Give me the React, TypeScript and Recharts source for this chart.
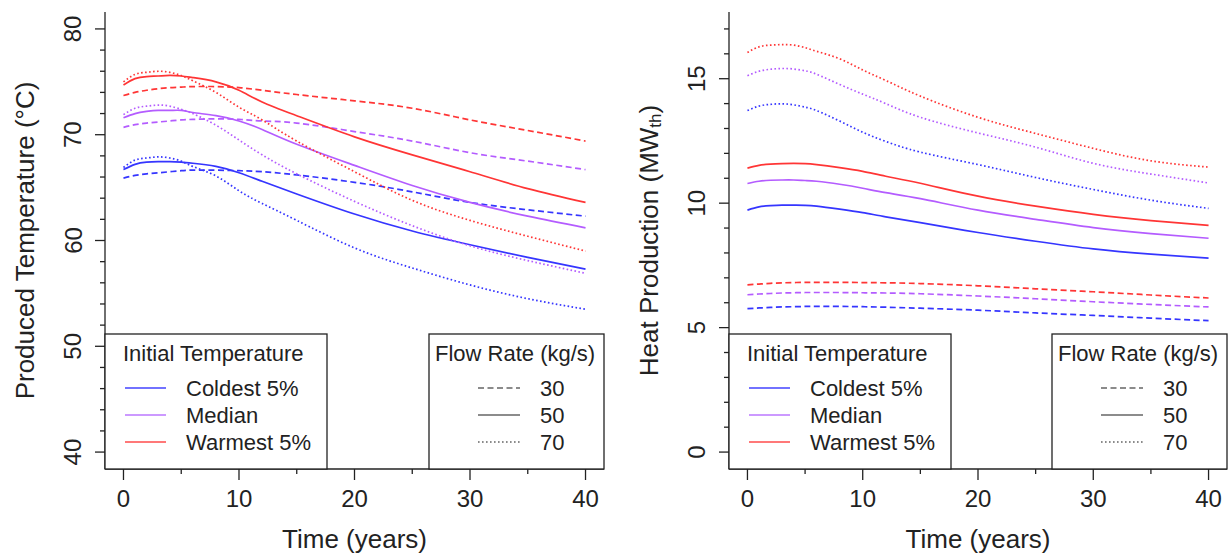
import React from 'react';
import { LineChart, Line, XAxis, YAxis } from 'recharts';

const YEARS = [0, 1, 2, 3, 4, 5, 6, 8, 10, 12, 15, 20, 25, 30, 35, 40];

// produced temperature (°C)
const tempColdest30 = [65.9, 66.15, 66.3, 66.4, 66.5, 66.6, 66.65, 66.65, 66.6, 66.5, 66.2, 65.5, 64.6, 63.6, 62.9, 62.3];
const tempColdest50 = [66.7, 67.2, 67.4, 67.45, 67.45, 67.4, 67.3, 67.0, 66.4, 65.6, 64.4, 62.5, 60.9, 59.6, 58.4, 57.3];
const tempColdest70 = [66.9, 67.6, 67.8, 67.9, 67.8, 67.5, 67.0, 66.1, 64.7, 63.5, 61.9, 59.3, 57.4, 55.8, 54.5, 53.5];
const tempMedian30 = [70.7, 70.95, 71.1, 71.2, 71.3, 71.4, 71.45, 71.5, 71.45, 71.3, 71.1, 70.3, 69.4, 68.3, 67.5, 66.7];
const tempMedian50 = [71.6, 72.0, 72.2, 72.3, 72.3, 72.3, 72.1, 71.8, 71.3, 70.5, 69.1, 67.1, 65.2, 63.6, 62.3, 61.2];
const tempMedian70 = [71.9, 72.5, 72.7, 72.8, 72.7, 72.4, 72.0, 70.9, 69.5, 68.1, 66.3, 63.7, 61.4, 59.5, 58.1, 56.9];
const tempWarmest30 = [73.7, 74.0, 74.2, 74.35, 74.45, 74.5, 74.55, 74.55, 74.45, 74.2, 73.8, 73.2, 72.5, 71.4, 70.4, 69.4];
const tempWarmest50 = [74.7, 75.3, 75.5, 75.55, 75.6, 75.55, 75.4, 75.0, 74.2, 73.1, 71.8, 69.8, 68.1, 66.5, 64.9, 63.6];
const tempWarmest70 = [75.0, 75.7, 75.9, 76.0, 75.9, 75.6, 75.1, 74.0, 72.6, 71.4, 69.4, 66.5, 63.8, 61.9, 60.4, 59.0];

// heat production (MWth)
const heatColdest30 = [5.76, 5.79, 5.81, 5.83, 5.84, 5.85, 5.85, 5.85, 5.84, 5.82, 5.78, 5.7, 5.59, 5.49, 5.38, 5.28];
const heatColdest50 = [9.72, 9.85, 9.9, 9.92, 9.92, 9.91, 9.88, 9.76, 9.62, 9.45, 9.22, 8.82, 8.47, 8.16, 7.95, 7.79];
const heatColdest70 = [13.72, 13.9, 13.97, 13.99, 13.95, 13.86, 13.72, 13.3, 12.85, 12.48, 12.05, 11.55, 11.03, 10.55, 10.12, 9.79];
const heatMedian30 = [6.32, 6.35, 6.37, 6.39, 6.4, 6.41, 6.41, 6.41, 6.4, 6.39, 6.36, 6.27, 6.16, 6.04, 5.93, 5.83];
const heatMedian50 = [10.79, 10.88, 10.92, 10.93, 10.93, 10.91, 10.88, 10.76, 10.6, 10.42, 10.18, 9.72, 9.35, 9.02, 8.78, 8.59];
const heatMedian70 = [15.12, 15.3, 15.38, 15.41, 15.39, 15.32, 15.18, 14.77, 14.38, 14.0, 13.45, 12.82, 12.25, 11.6, 11.17, 10.81];
const heatWarmest30 = [6.72, 6.75, 6.78, 6.8, 6.81, 6.82, 6.82, 6.82, 6.81, 6.8, 6.77, 6.68, 6.56, 6.44, 6.31, 6.19];
const heatWarmest50 = [11.41, 11.52, 11.57, 11.59, 11.6, 11.59, 11.55, 11.43, 11.28, 11.08, 10.8, 10.28, 9.88, 9.55, 9.3, 9.11];
const heatWarmest70 = [16.05, 16.28, 16.35, 16.37, 16.35, 16.25, 16.1, 15.8, 15.35, 14.93, 14.3, 13.45, 12.8, 12.2, 11.7, 11.45];

const TIME_TICKS = [0, 5, 10, 15, 20, 25, 30, 35, 40];
const TIME_LABELS = [0, 10, 20, 30, 40];
const TEMP_TICKS = [40, 42, 44, 46, 48, 50, 52, 54, 56, 58, 60, 62, 64, 66, 68, 70, 72, 74, 76, 78, 80];
const TEMP_LABELS = [40, 50, 60, 70, 80];
const HEAT_TICKS = [0, 1, 2, 3, 4, 5, 6, 7, 8, 9, 10, 11, 12, 13, 14, 15, 16, 17];
const HEAT_LABELS = [0, 5, 10, 15];

const GROUPS = ['Coldest 5%', 'Median', 'Warmest 5%'];
const FLOWS = ['30', '50', '70'];

const COLORS = ['#3535ff', '#b45cff', '#ff3535'];
const LEGEND_COLORS = ['#7272ff', '#cc99ff', '#ff7878'];
const DASHES: Record<string, string | undefined> = { '30': '6 3.5', '50': undefined, '70': '1.6 2.4' };

const FONT = '"Liberation Sans", Arial, Helvetica, sans-serif';
const INK = '#222';

const buildRows = (series: Record<string, number[]>) =>
  YEARS.map((t, i) => {
    const row: Record<string, number> = { t };
    Object.keys(series).forEach((k) => {
      row[k] = series[k][i];
    });
    return row;
  });

const tempRows = buildRows({
  c30: tempColdest30, c50: tempColdest50, c70: tempColdest70,
  m30: tempMedian30, m50: tempMedian50, m70: tempMedian70,
  w30: tempWarmest30, w50: tempWarmest50, w70: tempWarmest70,
});

const heatRows = buildRows({
  c30: heatColdest30, c50: heatColdest50, c70: heatColdest70,
  m30: heatMedian30, m50: heatMedian50, m70: heatMedian70,
  w30: heatWarmest30, w50: heatWarmest50, w70: heatWarmest70,
});

const SERIES_PREFIX = ['c', 'm', 'w'];

const makeYTick = (labels: number[]) => (props: any) => {
  const { x, y, payload } = props;
  const major = labels.includes(payload.value);
  const lx = x - 32;
  return (
    <g>
      <line x1={x - (major ? 10 : 5)} x2={x} y1={y} y2={y} stroke={INK} strokeWidth={1.3} />
      {major && (
        <text x={lx} y={y} transform={`rotate(-90 ${lx} ${y})`} textAnchor="middle" dominantBaseline="central"
          fontSize={24} fill={INK} fontFamily={FONT}>
          {payload.value}
        </text>
      )}
    </g>
  );
};

const XTick = (props: any) => {
  const { x, y, payload } = props;
  const major = TIME_LABELS.includes(payload.value);
  return (
    <g>
      <line x1={x} x2={x} y1={y} y2={y + (major ? 11 : 5)} stroke={INK} strokeWidth={1.3} />
      {major && (
        <text x={x} y={y + 38} textAnchor="middle" fontSize={24} fill={INK} fontFamily={FONT}>
          {payload.value}
        </text>
      )}
    </g>
  );
};

const makeYTitle = (content: React.ReactNode) => (props: any) => {
  const vb = props.viewBox || {};
  const cx = (vb.x ?? 0) + 25;
  const cy = (vb.y ?? 12) + (vb.height ?? 457) / 2;
  return (
    <text x={cx} y={cy} transform={`rotate(-90 ${cx} ${cy})`} textAnchor="middle" dominantBaseline="central"
      fontSize={26} fill={INK} fontFamily={FONT}>
      {content}
    </text>
  );
};

interface PanelProps {
  left: number;
  width: number;
  marginRight: number;
  rows: Record<string, number>[];
  yDomain: [number, number];
  yTicks: number[];
  yLabels: number[];
  yTitle: React.ReactNode;
}

const Legends: React.FC<{ right: number }> = ({ right }) => {
  const boxTop = 334;
  const boxBottom = 469;
  const rowsY = [388, 415, 442];
  const flowLeft = right - 175;
  return (
    <svg width={right + 2} height={554} style={{ position: 'absolute', left: 0, top: 0, pointerEvents: 'none' }}>
      <rect x={105} y={boxTop} width={222} height={boxBottom - boxTop} fill="#fff" stroke={INK} strokeWidth={1.3} />
      <text x={123} y={353} dominantBaseline="central" fontSize={22} fill={INK} fontFamily={FONT}>Initial Temperature</text>
      {GROUPS.map((g, i) => (
        <g key={g}>
          <line x1={125} x2={166} y1={rowsY[i]} y2={rowsY[i]} stroke={LEGEND_COLORS[i]} strokeWidth={1.8} />
          <text x={186} y={rowsY[i]} dominantBaseline="central" fontSize={22} fill={INK} fontFamily={FONT}>{g}</text>
        </g>
      ))}
      <rect x={flowLeft} y={boxTop} width={175} height={boxBottom - boxTop} fill="#fff" stroke={INK} strokeWidth={1.3} />
      <text x={flowLeft + 6} y={353} dominantBaseline="central" fontSize={22} fill={INK} fontFamily={FONT}>Flow Rate (kg/s)</text>
      {FLOWS.map((f, i) => (
        <g key={f}>
          <line x1={flowLeft + 49} x2={flowLeft + 91} y1={rowsY[i]} y2={rowsY[i]} stroke="#666" strokeWidth={1.4}
            strokeDasharray={DASHES[f]} />
          <text x={flowLeft + 111} y={rowsY[i]} dominantBaseline="central" fontSize={22} fill={INK} fontFamily={FONT}>{f}</text>
        </g>
      ))}
    </svg>
  );
};

const Panel: React.FC<PanelProps> = ({ left, width, marginRight, rows, yDomain, yTicks, yLabels, yTitle }) => (
  <div style={{ position: 'absolute', left, top: 0, width, height: 554 }}>
    <LineChart width={width} height={554} data={rows} margin={{ top: 12, right: marginRight, bottom: 0, left: 0 }}>
      <XAxis dataKey="t" type="number" domain={[-1.6, 41.6]} allowDataOverflow ticks={TIME_TICKS} interval={0}
        height={85} tickSize={0} tickMargin={0} tickLine={false} tick={<XTick />}
        axisLine={{ stroke: INK, strokeWidth: 1.3 }}
        label={{ value: 'Time (years)', position: 'insideBottom', offset: 6, fontSize: 26, fill: INK, fontFamily: FONT }} />
      <XAxis xAxisId="top" orientation="top" dataKey="t" type="number" domain={[-1.6, 41.6]} allowDataOverflow
        height={0} tick={false} tickLine={false} axisLine={{ stroke: INK, strokeWidth: 1.3 }} />
      <YAxis type="number" domain={yDomain} allowDataOverflow ticks={yTicks} interval={0} width={105}
        tickSize={0} tickMargin={0} tickLine={false} tick={makeYTick(yLabels)}
        axisLine={{ stroke: INK, strokeWidth: 1.3 }} label={makeYTitle(yTitle)} />
      <YAxis yAxisId="right" orientation="right" type="number" domain={yDomain} allowDataOverflow width={0}
        tick={false} tickLine={false} axisLine={{ stroke: INK, strokeWidth: 1.3 }} />
      {SERIES_PREFIX.map((p, gi) =>
        FLOWS.map((f) => (
          <Line key={p + f} dataKey={p + f} type="natural" stroke={COLORS[gi]} strokeWidth={1.7}
            strokeDasharray={DASHES[f]} dot={false} activeDot={false} isAnimationActive={false} />
        ))
      )}
    </LineChart>
    <Legends right={width - marginRight} />
  </div>
);

const App: React.FC = () => (
  <div style={{ position: 'absolute', left: 0, top: 0, width: 1230, height: 554, background: '#fff', fontFamily: FONT }}>
    <Panel left={0} width={615} marginRight={11} rows={tempRows} yDomain={[38.4, 81.6]}
      yTicks={TEMP_TICKS} yLabels={TEMP_LABELS} yTitle="Produced Temperature (°C)" />
    <Panel left={624} width={606} marginRight={3} rows={heatRows} yDomain={[-0.68, 17.68]}
      yTicks={HEAT_TICKS} yLabels={HEAT_LABELS}
      yTitle={
        <>
          Heat Production (MW
          <tspan dy={6} fontSize={17}>th</tspan>
          <tspan dy={-6}>)</tspan>
        </>
      } />
  </div>
);

export default App;
